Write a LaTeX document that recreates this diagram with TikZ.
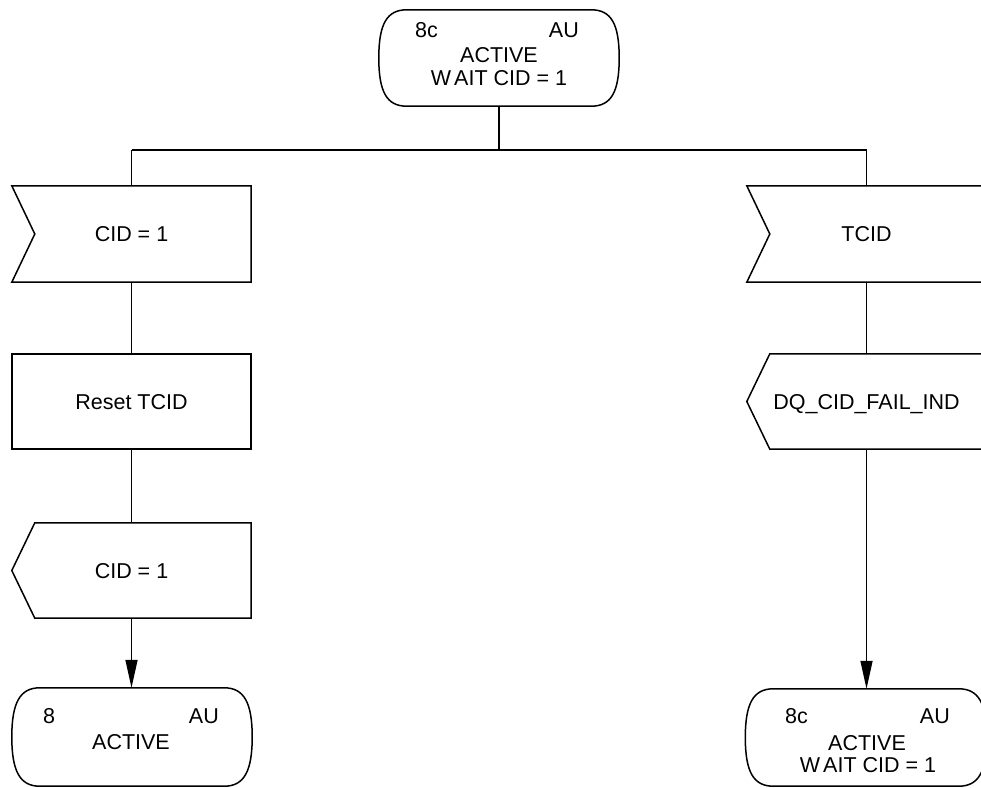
\documentclass[tikz,border=0pt]{standalone}
\usepackage{fontspec}
\setmainfont{Liberation Sans}
\usetikzlibrary{calc,arrows.meta}

% SDL state symbol: straight top and bottom, bowed left and right sides
\newcommand\drawsdlstate[1]{%
  \draw[line] ($(#1.north west)+(28,0)$) -- ($(#1.north east)+(-28,0)$)
    .. controls ($(#1.north east)+(-8,0)$) and ($(#1.east)+(0,-34)$) .. (#1.east)
    .. controls ($(#1.east)+(0,34)$) and ($(#1.south east)+(-8,0)$) .. ($(#1.south east)+(-28,0)$)
    -- ($(#1.south west)+(28,0)$)
    .. controls ($(#1.south west)+(8,0)$) and ($(#1.west)+(0,34)$) .. (#1.west)
    .. controls ($(#1.west)+(0,-34)$) and ($(#1.north west)+(8,0)$) .. ($(#1.north west)+(28,0)$)
    -- cycle;}
% SDL input symbol: notch cut into the left side
\newcommand\drawsdlinput[1]{%
  \draw[line] (#1.north west) -- (#1.north east) -- (#1.south east) -- (#1.south west)
    -- ($(#1.west)+(23,0)$) -- cycle;}
% SDL output symbol: point on the left side
\newcommand\drawsdloutput[1]{%
  \draw[line] ($(#1.north west)+(23,0)$) -- (#1.north east) -- (#1.south east)
    -- ($(#1.south west)+(23,0)$) -- (#1.west) -- cycle;}

\begin{document}
\begin{tikzpicture}[x=1pt,y=-1pt,
  line/.style={line width=1.5pt,black,line join=miter},
  flow/.style={line,-{Triangle[length=28pt,width=12pt]}},
  shapebox/.style={minimum width=239pt,minimum height=96pt,inner sep=0pt,
    draw=none,text depth=0pt,font=\fontsize{21.5}{23}\selectfont},
  txt/.style={inner sep=0pt,font=\fontsize{21.5}{23}\selectfont}
]
\useasboundingbox (0,0) rectangle (981,787);
\clip (0,0) rectangle (981,787);

% --- symbols -------------------------------------------------------------
\node[shapebox,minimum width=240pt] (top) at (499,58) {};
\node[shapebox] (in1)   at (131.5,234)   {CID = 1};
\node[shapebox,minimum height=95pt] (task1) at (131.5,401.5) {Reset TCID};
\node[shapebox,minimum height=95pt] (out1)  at (131.5,570.5) {CID = 1};
\node[shapebox,minimum width=240pt,minimum height=98pt] (st1) at (132,737) {};
\node[shapebox] (in2)   at (866.5,234)   {TCID};
\node[shapebox,minimum height=95pt] (out2)  at (866.5,401.5) {DQ\_CID\_FAIL\_IND};
\node[shapebox,minimum width=241pt,minimum height=97pt] (st2) at (866,737.5) {};

\drawsdlstate{top}
\drawsdlinput{in1}
\draw[line] (task1.north west) rectangle (task1.south east);
\drawsdloutput{out1}
\drawsdlstate{st1}
\drawsdlinput{in2}
\drawsdloutput{out2}
\drawsdlstate{st2}

% --- state labels --------------------------------------------------------
\node[txt,anchor=base west] (topnum)  at (415,37.5) {8c};
\node[txt,anchor=base east] (topau)   at (579,37.5) {AU};
\node[txt,anchor=base]      (topname) at (499,62)   {ACTIVE};
\node[txt,anchor=base]      (topsub)  at (499,85)   {W\kern3pt AIT CID = 1};

\node[txt,anchor=base west] (st1num)  at (43,723)  {8};
\node[txt,anchor=base east] (st1au)   at (219,723) {AU};
\node[txt,anchor=base]      (st1name) at (131,749) {ACTIVE};

\node[txt,anchor=base west] (st2num)  at (785,723) {8c};
\node[txt,anchor=base east] (st2au)   at (950,723) {AU};
\node[txt,anchor=base]      (st2name) at (867,750) {ACTIVE};
\node[txt,anchor=base]      (st2sub)  at (868,772) {W\kern3pt AIT CID = 1};

% --- connectors ----------------------------------------------------------
\coordinate (fork) at (499,150);
\draw[line] (top.south) -- (fork);
\draw[line] (fork -| in1.north) -- (fork -| in2.north);
\draw[line] (fork -| in1.north) -- (in1.north);
\draw[line] (fork -| in2.north) -- (in2.north);
\draw[line] (in1.south) -- (task1.north);
\draw[line] (task1.south) -- (out1.north);
\draw[flow] (out1.south) -- (out1.south |- st1.north);
\draw[line] (in2.south) -- (out2.north);
\draw[flow] (out2.south) -- (out2.south |- st2.north);
\end{tikzpicture}
\end{document}
